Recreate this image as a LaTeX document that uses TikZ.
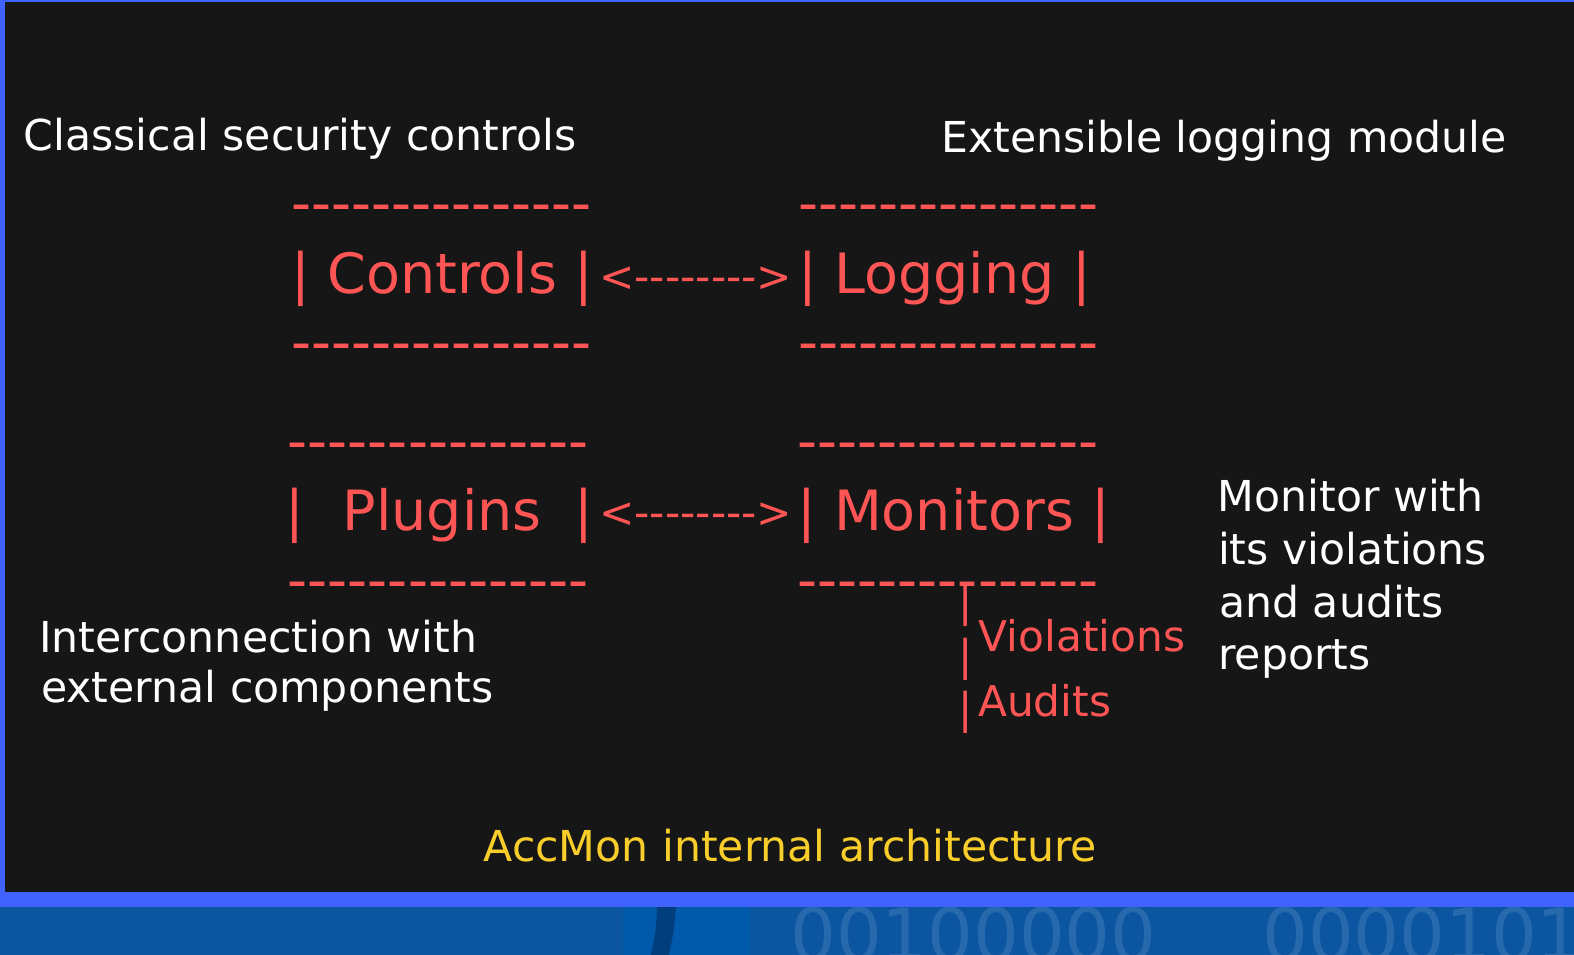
\documentclass[tikz,border=0pt]{standalone}
\usepackage{fontspec}
\usepackage{tikz}
\newfontfamily\dejavu{DejaVu Sans}
\definecolor{slate}{HTML}{161616}
\definecolor{frame}{HTML}{4062FF}
\definecolor{ascii}{HTML}{FF5555}
\definecolor{caption}{HTML}{F9CD2A}
\definecolor{seabg}{HTML}{0C55A0}
\definecolor{seamid}{HTML}{0059AA}
\definecolor{seadark}{HTML}{003E7E}
\definecolor{seadigit}{HTML}{5A8FC8}
\tikzset{box/.style = {text=ascii, inner sep=0pt, anchor=base west, font=\dejavu\fontsize{55.5}{66}\selectfont}}
\tikzset{wire/.style = {text=ascii, inner sep=0pt, anchor=base west, font=\dejavu\fontsize{42.3}{50}\selectfont}}
\tikzset{note/.style = {text=white, inner sep=0pt, anchor=base west, font=\dejavu\fontsize{42.6}{50}\selectfont}}

\begin{document}
\begin{tikzpicture}[x=1pt,y=-1pt]
\tikzset{title/.style = {note, text=caption}}
\tikzset{digits/.style = {inner sep=0pt, anchor=base west, text=seadigit, text opacity=0.35, font=\dejavu\fontsize{72}{80}\selectfont}}
\useasboundingbox (0,0) rectangle (1574,955);
% backdrop
\fill[frame] (0,0) rectangle (1574,907);
\fill[slate] (5,2) rectangle (1574,892);
\fill[seabg] (0,907) rectangle (1574,955);
\fill[seamid] (623,907) rectangle (750,955);
\fill[seadark] (657,907) .. controls (656,930) .. (651,955) -- (669,955) .. controls (674,930) .. (676,907) -- cycle;
\begin{scope}
\clip (0,907) rectangle (1574,955);
\node[digits] (bitsa) at (790,960) {00100000};
\node[digits] (bitsb) at (1262,960) {00001010};
\end{scope}
% boxes
\node[box] (ctrltop) at (291,222.6) {---------------};
\node[box] (ctrl)    at (291,293.3) {| Controls |};
\node[box] (ctrlbot) at (291,361)   {---------------};

\node[box] (logtop) at (798,222.6) {---------------};
\node[box] (log)    at (798,293.3) {| Logging |};
\node[box] (logbot) at (798,361)   {---------------};

\node[box] (plugtop) at (287.6,460.3) {---------------};
\node[box] (plug)    at (285.7,530)   {|\ \ \kern3pt Plugins\ \ \kern-3pt|};
\node[box] (plugbot) at (287.6,599.3) {---------------};

\node[box] (montop) at (797.5,460.3) {---------------};
\node[box] (mon)    at (797.5,530)   {| Monitors |};
\node[box] (monbot) at (797.5,599.3) {---------------};
% links
\node[wire] (ctrllog) at (599,291)   {<-------->};
\node[wire] (plugmon) at (599,527.7) {<-------->};
% reports
\node[wire] (bara) at (957.8,616.9) {|};
\node[wire] (barb) at (957.8,670.9) {|};
\node[wire] (barc) at (957.8,723.6) {|};
\node[wire] (viol) at (978.6,651)   {Violations};
\node[wire] (aud)  at (978,716)     {Audits};
% notes
\node[note] (classic) at (23.6,150)   {Classical security controls};
\node[note] (extens)  at (941,152.7)  {Extensible logging module};
\node[note] (intera)  at (39.2,652)   {Interconnection with};
\node[note] (interb)  at (41,702)     {external components};
\node[note] (mona)    at (1217.6,511.7) {Monitor with};
\node[note] (monb)    at (1217.8,564.3) {its violations};
\node[note] (monc)    at (1219,617)     {and audits};
\node[note] (mond)    at (1218,669.7)   {reports};
\node[title] (arch)   at (483.5,861.7)  {AccMon internal architecture};
\end{tikzpicture}
\end{document}
